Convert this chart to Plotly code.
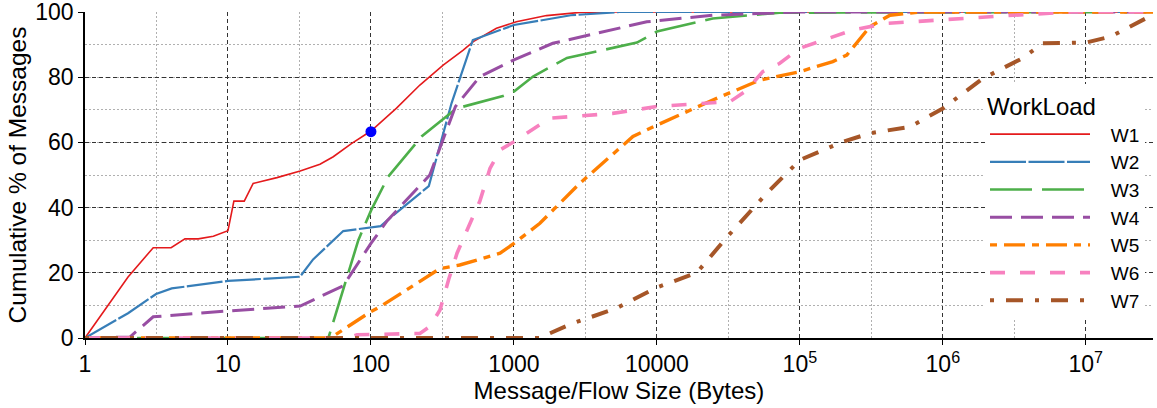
import plotly.graph_objects as go

# ---------------- data ----------------
w1_x = [1, 2, 3, 4, 5, 6.2, 7.9, 10, 11, 13, 15, 22, 32, 44, 54.5, 73, 100, 151, 220, 320, 442, 520, 755, 1040, 1690, 2900, 4500, 3e7]
w1_y = [0, 18.7, 27.7, 27.7, 30.4, 30.4, 31.2, 32.9, 42, 42, 47.4, 49.2, 51.2, 53.3, 55.6, 59.6, 63.5, 70.5, 77.6, 83.7, 88.3, 90.9, 95, 97, 98.9, 99.9, 100, 100]

w2_x = [1, 2, 3.14, 4.04, 10, 31.9, 39.4, 64, 117, 135, 254, 366, 516, 1000, 2500, 5500, 3e7]
w2_y = [0, 7.6, 13.5, 15.2, 17.5, 18.8, 24.1, 32.8, 34.3, 36.7, 46.6, 72, 91.4, 96, 99, 100, 100]

w3_x = [1, 50.4, 81.6, 100.6, 132, 226, 395, 838, 1000, 1360, 2350, 7250, 10000, 24600, 72000, 3e7]
w3_y = [0, 0, 30, 39.3, 49.5, 61.8, 70.4, 74.2, 75.6, 80.2, 85.9, 90.6, 94, 98, 99.8, 100]

w4_x = [1, 2.06, 3, 10, 32, 64, 100, 130, 258, 390, 578, 1000, 1870, 4000, 8500, 24600, 100000, 3e7]
w4_y = [0, 0.3, 6.5, 8.3, 9.8, 16, 29, 36, 50, 71, 80.2, 85.3, 90.4, 93.7, 97, 99, 100, 100]

w5_x = [1, 52, 100, 116, 304, 418, 800, 1000, 1520, 2200, 2900, 6800, 10000, 24600, 52500, 100000, 170000, 213000, 309000, 427000, 690000, 3e7]
w5_y = [0, 0, 8.1, 9.6, 21.3, 22.4, 26, 29, 35.2, 42.3, 47.5, 61.8, 65.3, 73, 79.1, 81.7, 84.8, 86.8, 95.5, 99, 100, 100]

w6_x = [1, 70, 80, 200, 220, 258, 304, 350, 400, 480, 578, 680, 800, 1000, 1780, 4900, 10000, 32500, 42500, 55000, 72000, 100000, 235000, 405000, 1e6, 3.1e6, 8e6, 3e7]
w6_y = [0, 0, 1, 1.2, 1.4, 3.5, 8.6, 18, 26, 34, 42, 52, 57.7, 60.2, 67.4, 68.9, 71, 72.5, 76, 81.7, 84.2, 88.9, 94.5, 96.5, 97.7, 99, 100, 100]

w7_x = [1, 1500, 2580, 5200, 10000, 19000, 31000, 50000, 59000, 100000, 200000, 310000, 590000, 1e6, 1.9e6, 3.6e6, 5e6, 1e7, 1.5e7, 2.9e7]
w7_y = [0, 0, 4.5, 9.1, 15.5, 20, 31, 40.8, 44.5, 54.6, 60.2, 62.8, 64.8, 70.4, 79.6, 85.8, 90.4, 90.6, 92.5, 99]

marker_x = [100]
marker_y = [63.3]

names = ["W1", "W2", "W3", "W4", "W5", "W6", "W7"]
xs = [w1_x, w2_x, w3_x, w4_x, w5_x, w6_x, w7_x]
ys = [w1_y, w2_y, w3_y, w4_y, w5_y, w6_y, w7_y]

x_tickvals = [1, 10, 100, 1000, 10000, 1e5, 1e6, 1e7]
x_ticktext = ["1", "10", "100", "1000", "10000", "10<sup>5</sup>", "10<sup>6</sup>", "10<sup>7</sup>"]
x_minor_vals = [10 ** (k + 0.5) for k in range(8)]
y_tickvals = [0, 20, 40, 60, 80, 100]

# ---------------- style ----------------
colors = ["#e41a1c", "#377eb8", "#4daf4a", "#984ea3", "#ff7f00", "#f781bf", "#a65628"]
widths = [1.6, 2.2, 2.6, 3.0, 3.4, 3.6, 4.0]
dashes = ["solid", "36px,2.5px", "42px,10px", "22px,9px", "7px,7px,21px,7px", "15px,15px", "4px,12px,17px,12px"]

FONT = "Liberation Sans, Arial, sans-serif"
NB = "\u00a0\u00a0\u00a0"

fig = go.Figure()
for n, x, y, c, w, d in zip(names, xs, ys, colors, widths, dashes):
    fig.add_trace(go.Scatter(x=x, y=y, name=NB + n, mode="lines",
                             line=dict(color=c, width=w, dash=d)))

fig.add_trace(go.Scatter(x=marker_x, y=marker_y, mode="markers", showlegend=False,
                         marker=dict(color="#0000ff", size=11)))

fig.update_layout(
    width=1157, height=408,
    margin=dict(l=85, r=4, t=12, b=70),
    plot_bgcolor="white", paper_bgcolor="white",
    font=dict(family=FONT, color="black"),
    legend=dict(
        title=dict(text="WorkLoad", font=dict(size=24)),
        font=dict(size=19),
        x=0.8427, y=0.779, xanchor="left", yanchor="top",
        bgcolor="white", borderwidth=0,
        itemwidth=100,
    ),
)

fig.update_xaxes(
    type="log", range=[0, 7.47],
    tickvals=x_tickvals, ticktext=x_ticktext,
    tickfont=dict(size=23),
    title=dict(text="Message/Flow Size (Bytes)", font=dict(size=24), standoff=2),
    showline=True, linecolor="black", linewidth=1.6,
    ticks="outside", ticklen=5, tickcolor="black",
    showgrid=True, gridcolor="#333333", gridwidth=1, griddash="4px,3px",
    minor=dict(tickmode="array", tickvals=x_minor_vals, showgrid=True,
               gridcolor="#b0b0b0", gridwidth=1, griddash="2px,2px", ticks=""),
    zeroline=False, ticklabeloverflow="allow", automargin=False,
)
fig.update_yaxes(
    range=[0, 100],
    tickvals=y_tickvals,
    tickfont=dict(size=23),
    title=dict(text="Cumulative % of Messages", font=dict(size=24.5), standoff=2),
    showline=True, linecolor="black", linewidth=1.6,
    ticks="outside", ticklen=5, tickcolor="black",
    showgrid=True, gridcolor="#333333", gridwidth=1, griddash="4px,3px",
    minor=dict(dtick=10, showgrid=True, gridcolor="#b0b0b0", gridwidth=1,
               griddash="2px,2px", ticks=""),
    zeroline=False, ticklabeloverflow="allow", automargin=False,
)

fig.write_html("out.html")
